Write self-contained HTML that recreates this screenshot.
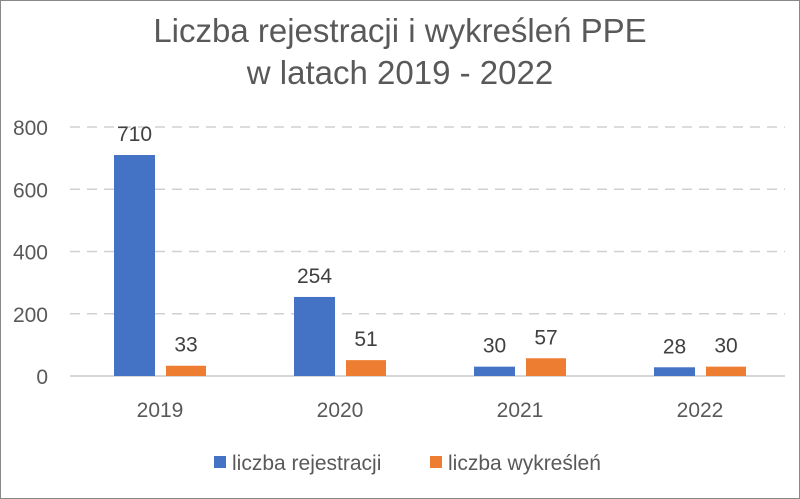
<!DOCTYPE html>
<html><head><meta charset="utf-8"><style>
body{margin:0;background:#fff}
svg{display:block;font-family:"Liberation Sans","DejaVu Sans",sans-serif}
</style></head><body>
<svg width="800" height="499" viewBox="0 0 800 499">
<rect x="0.5" y="0.5" width="799" height="498" fill="#fff" stroke="#888"/>
<text x="400" y="42" text-anchor="middle" font-size="33" fill="#595959">Liczba rejestracji i wykreśleń PPE</text>
<text x="400" y="84" text-anchor="middle" font-size="33" fill="#595959">w latach 2019 - 2022</text>
<g id="grid"></g><g id="bars"></g><g id="labels"></g>
<g>
<rect x="214" y="456" width="12" height="12" fill="#4472c4"/>
<text x="232" y="470" font-size="21" fill="#595959">liczba rejestracji</text>
<rect x="430" y="456" width="12" height="12" fill="#ed7d31"/>
<text x="448" y="470" font-size="21" fill="#595959">liczba wykreśleń</text>
</g>
</svg>
<script>
const categories=["2019","2020","2021","2022"];
const rejestracje=[710,254,30,28];
const wykreslenia=[33,51,57,30];
const yTicks=[0,200,400,600,800];
const NS="http://www.w3.org/2000/svg";
const X0=70,CW=180,Y0=376,YTOP=127,YMAX=800;
const y=v=>Y0-(v/YMAX)*(Y0-YTOP);
const xc=i=>X0+CW*i;
function mk(tag,attrs,parent,txt){const e=document.createElementNS(NS,tag);for(const k in attrs)e.setAttribute(k,attrs[k]);if(txt!==undefined)e.textContent=txt;document.getElementById(parent).appendChild(e);return e;}
yTicks.forEach(t=>{
  if(t>0){const l=mk('line',{x1:X0,x2:785,y1:y(t),y2:y(t),stroke:'#d0d0d0','stroke-width':1.5,'stroke-dasharray':'10,7'},'grid');
  
  }
  const tx=mk('text',{x:48,y:y(t)+8,'text-anchor':'end','font-size':21,fill:'#595959'},'grid',String(t));
  
  
});
const ax=mk('line',{x1:X0,x2:785,y1:Y0,y2:Y0,stroke:'#c8c8c8','stroke-width':1.5},'grid');


categories.forEach((c,i)=>{
  const b1=mk('rect',{x:xc(i)+44,y:y(rejestracje[i]),width:41,height:Y0-y(rejestracje[i]),fill:'#4472c4'},'bars');
  
  
  const b2=mk('rect',{x:xc(i)+96,y:y(wykreslenia[i]),width:40,height:Y0-y(wykreslenia[i]),fill:'#ed7d31'},'bars');
  
  
  const l1=mk('text',{x:xc(i)+64.5,y:y(rejestracje[i])-14,'text-anchor':'middle','font-size':21,fill:'#404040'},'labels',String(rejestracje[i]));
  
  
  const l2=mk('text',{x:xc(i)+116,y:y(wykreslenia[i])-14,'text-anchor':'middle','font-size':21,fill:'#404040'},'labels',String(wykreslenia[i]));
  
  
  const xl=mk('text',{x:xc(i)+90,y:417,'text-anchor':'middle','font-size':21,fill:'#595959'},'labels',c);
  
  
});
</script>
</body></html>
